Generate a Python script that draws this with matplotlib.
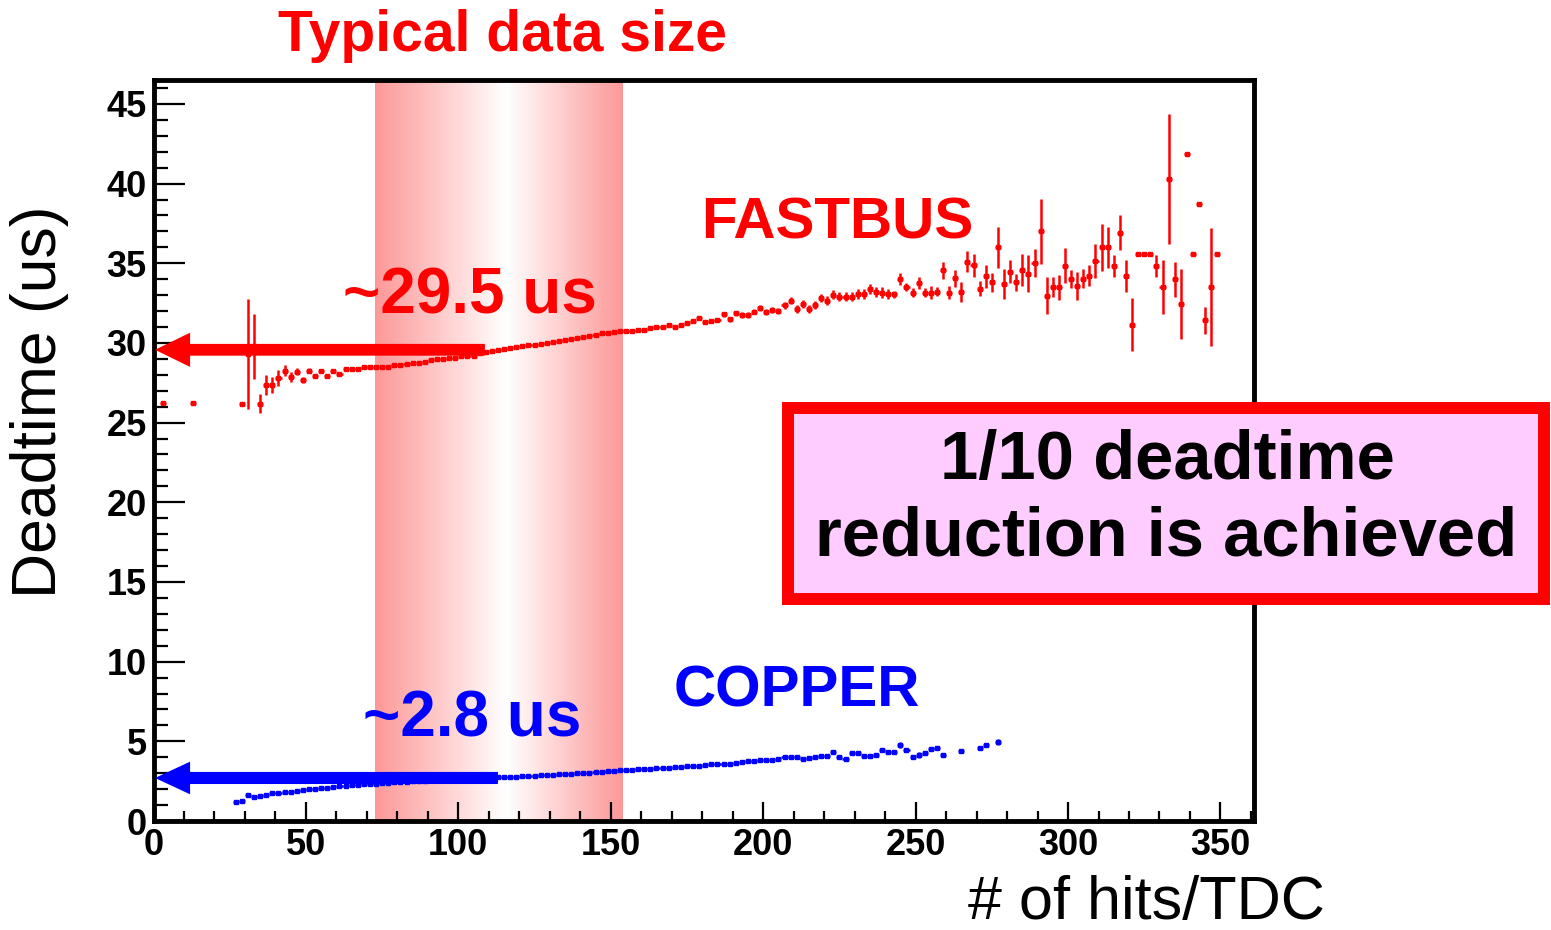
import numpy as np
import matplotlib
matplotlib.use("Agg")
import matplotlib.pyplot as plt
from matplotlib.colors import LinearSegmentedColormap
from matplotlib.patches import Rectangle
from matplotlib.ticker import MultipleLocator

plt.rcParams['font.family'] = ['Liberation Sans', 'DejaVu Sans']

# FASTBUS deadtime per bin (bin width 2 hits/TDC)
fb_x = [3, 13, 29] + list(range(31, 351, 2))
fb_y = [26.20, 26.20, 26.18,
        29.30, 29.78, 26.18, 27.37, 27.37, 27.79, 28.27, 27.85, 28.20, 27.68,
        28.27, 27.95, 28.27, 27.95, 28.27, 28.06, 28.35, 28.35, 28.35, 28.48,
        28.48, 28.52, 28.52, 28.52, 28.63, 28.63, 28.69, 28.73, 28.77, 28.83,
        28.94, 28.98, 28.98, 29.04, 29.08, 29.15, 29.19, 29.21, 29.36, 29.46,
        29.52, 29.55, 29.62, 29.70, 29.75, 29.80, 29.85, 29.90, 29.95, 30.00,
        30.08, 30.12, 30.18, 30.22, 30.28, 30.35, 30.45, 30.52, 30.60, 30.65,
        30.70, 30.72, 30.74, 30.76, 30.80, 30.84, 30.95, 31.03, 31.03, 31.14,
        30.99, 31.10, 31.24, 31.39, 31.55, 31.34, 31.39, 31.45, 31.80, 31.49,
        31.87, 31.76, 31.76, 31.97, 32.18, 31.97, 32.08, 32.01, 32.35, 32.66,
        32.14, 32.43, 32.14, 32.39, 32.81, 32.66, 33.02, 32.91, 32.91, 32.91,
        33.06, 33.06, 33.39, 33.18, 33.16, 33.08, 33.05, 34.00, 33.50, 33.16,
        33.75, 33.16, 33.16, 33.22, 34.55, 33.16, 34.06, 33.22, 35.11, 34.86,
        33.39, 34.17, 33.81, 36.00, 33.68, 34.48, 33.81, 34.55, 34.34, 35.01,
        37.00, 32.97, 33.50, 33.50, 34.84, 34.00, 33.58, 34.02, 34.23, 35.15,
        36.00, 36.00, 34.80, 36.93, 34.20, 31.14, 35.59, 35.59, 35.59, 34.80,
        33.50, 40.28, 34.00, 32.45, 41.85, 35.59, 38.71, 31.41, 33.50, 35.59]
fb_err = [0.0, 0.0, 0.0,
          3.45, 2.05, 0.60, 0.63, 0.50, 0.50, 0.37, 0.30, 0.23, 0.20,
          0.15, 0.12, 0.12, 0.10, 0.10, 0.08, 0.08, 0.07, 0.07, 0.07,
          0.06, 0.06, 0.06, 0.06, 0.06, 0.06, 0.06, 0.06, 0.06, 0.06,
          0.06, 0.06, 0.06, 0.06, 0.06, 0.06, 0.06, 0.06, 0.06, 0.06,
          0.06, 0.06, 0.06, 0.06, 0.06, 0.06, 0.06, 0.06, 0.06, 0.06,
          0.06, 0.06, 0.06, 0.06, 0.06, 0.06, 0.06, 0.06, 0.06, 0.06,
          0.07, 0.07, 0.07, 0.08, 0.08, 0.08, 0.09, 0.09, 0.10, 0.10,
          0.10, 0.11, 0.11, 0.12, 0.12, 0.13, 0.13, 0.14, 0.15, 0.15,
          0.16, 0.17, 0.17, 0.18, 0.19, 0.19, 0.20, 0.21, 0.22, 0.23,
          0.24, 0.24, 0.25, 0.26, 0.27, 0.27, 0.28, 0.28, 0.29, 0.30,
          0.30, 0.31, 0.32, 0.31, 0.32, 0.30, 0.20, 0.36, 0.26, 0.30,
          0.39, 0.26, 0.40, 0.30, 0.55, 0.42, 0.52, 0.63, 0.68, 0.71,
          0.47, 0.70, 0.60, 1.30, 0.93, 0.73, 0.54, 1.00, 1.15, 0.88,
          2.04, 1.16, 0.63, 0.78, 1.10, 0.58, 0.87, 0.60, 0.65, 1.08,
          1.46, 1.30, 0.69, 1.08, 1.00, 1.65, 0.00, 0.00, 0.00, 0.69,
          1.68, 4.07, 1.09, 2.20, 0.00, 0.00, 0.00, 0.86, 3.70, 0.00]

# COPPER deadtime per bin
cu_x = list(range(27, 261, 2)) + [265, 271, 273, 277]
cu_y = [1.22, 1.28, 1.66, 1.53, 1.59, 1.66, 1.73, 1.77, 1.80, 1.84,
        1.89, 1.94, 1.98, 2.02, 2.06, 2.10, 2.14, 2.19, 2.21, 2.25,
        2.27, 2.30, 2.32, 2.35, 2.38, 2.40, 2.43, 2.45, 2.47, 2.50,
        2.52, 2.54, 2.56, 2.58, 2.60, 2.61, 2.63, 2.65, 2.66, 2.68,
        2.70, 2.71, 2.72, 2.73, 2.75, 2.77, 2.79, 2.81, 2.83, 2.85,
        2.87, 2.89, 2.91, 2.93, 2.95, 2.97, 3.00, 3.02, 3.04, 3.07,
        3.09, 3.11, 3.14, 3.17, 3.19, 3.21, 3.24, 3.26, 3.28, 3.30,
        3.33, 3.35, 3.38, 3.41, 3.44, 3.46, 3.48, 3.51, 3.55, 3.55,
        3.56, 3.60, 3.62, 3.68, 3.74, 3.79, 3.83, 3.83, 3.83, 3.89,
        4.00, 4.00, 4.00, 3.87, 3.97, 4.00, 4.10, 4.08, 4.35, 4.00,
        3.89, 4.25, 4.25, 4.10, 4.10, 4.14, 4.46, 4.35, 4.31, 4.77,
        4.46, 4.00, 4.14, 4.25, 4.52, 4.60, 4.14,
        4.41, 4.56, 4.77, 4.94]
cu_err = [0.04, 0.04, 0.04, 0.04, 0.04, 0.04, 0.04, 0.04, 0.04, 0.04,
          0.04, 0.04, 0.04, 0.04, 0.04, 0.04, 0.04, 0.04, 0.04, 0.04,
          0.04, 0.04, 0.04, 0.04, 0.04, 0.04, 0.04, 0.04, 0.04, 0.04,
          0.04, 0.04, 0.04, 0.04, 0.04, 0.04, 0.04, 0.04, 0.04, 0.04,
          0.04, 0.04, 0.04, 0.04, 0.04, 0.04, 0.04, 0.04, 0.04, 0.04,
          0.04, 0.04, 0.04, 0.04, 0.04, 0.04, 0.04, 0.04, 0.04, 0.04,
          0.05, 0.05, 0.05, 0.05, 0.05, 0.05, 0.05, 0.05, 0.05, 0.05,
          0.05, 0.05, 0.05, 0.05, 0.05, 0.05, 0.05, 0.05, 0.05, 0.05,
          0.06, 0.06, 0.06, 0.06, 0.06, 0.06, 0.06, 0.06, 0.06, 0.06,
          0.06, 0.06, 0.06, 0.06, 0.07, 0.12, 0.08, 0.08, 0.08, 0.08,
          0.08, 0.08, 0.08, 0.08, 0.08, 0.09, 0.09, 0.09, 0.09, 0.20,
          0.10, 0.10, 0.20, 0.10, 0.10, 0.10, 0.05,
          0.05, 0.10, 0.08, 0.20]

band_lo, band_hi = 72.6, 153.8

fig = plt.figure(figsize=(15.51, 9.30), dpi=100)
ax = fig.add_axes([153.5 / 1551, 109 / 930, 1100.5 / 1551, 741 / 930])
ax.set_xlim(0, 361)
ax.set_ylim(0, 46.5)

# typical data size band (pink fading to white in the middle)
cmap = LinearSegmentedColormap.from_list('band', ['#ffffff', '#fd9898'])
pos = np.linspace(0, 1, 400)
shade = np.interp(pos, [0, 0.53, 1], [1, 0, 1])
ax.imshow(shade[np.newaxis, :], cmap=cmap, aspect='auto', vmin=0, vmax=1,
          extent=[band_lo, band_hi, 0, 46.5], zorder=0, interpolation='bilinear')

ax.errorbar(fb_x, fb_y, xerr=1, yerr=fb_err, fmt='s', ms=2.4, color='red',
            elinewidth=1.8, capsize=0, zorder=3)
ax.errorbar(cu_x, cu_y, xerr=1, yerr=cu_err, fmt='s', ms=2.4, color='blue',
            elinewidth=1.8, capsize=0, zorder=3)

ax.arrow(108.7, 29.57, -108.2, 0, width=0.74, head_width=2.15, head_length=11.5,
         length_includes_head=True, fc='red', ec='none', clip_on=False, zorder=5)
ax.arrow(113.0, 2.70, -112.5, 0, width=0.76, head_width=2.05, head_length=11.5,
         length_includes_head=True, fc='blue', ec='none', clip_on=False, zorder=5)

ax.text(103.8, 32.9, '~29.5 us', color='red', fontsize=46, fontweight='bold',
        ha='center', va='center', zorder=6)
ax.text(104.7, 6.4, '~2.8 us', color='blue', fontsize=46, fontweight='bold',
        ha='center', va='center', zorder=6)
ax.text(224.4, 37.5, 'FASTBUS', color='red', fontsize=42, fontweight='bold',
        ha='center', va='center', zorder=6)
ax.text(211, 8.1, 'COPPER', color='blue', fontsize=42, fontweight='bold',
        ha='center', va='center', zorder=6)

for side in ['left', 'right', 'top', 'bottom']:
    ax.spines[side].set_linewidth(3.5)
    ax.spines[side].set_zorder(4)
ax.set_xticks(range(0, 351, 50))
ax.set_yticks(range(0, 46, 5))
ax.xaxis.set_minor_locator(MultipleLocator(10))
ax.yaxis.set_minor_locator(MultipleLocator(1))
ax.tick_params(which='both', direction='in', top=False, right=False, width=1.6,
               labelsize=26, pad=5)
ax.tick_params(axis='y', which='major', length=22)
ax.tick_params(axis='y', which='minor', length=10)
ax.tick_params(axis='x', which='major', length=14)
ax.tick_params(axis='x', which='minor', length=7)
for lab in ax.get_xticklabels() + ax.get_yticklabels():
    lab.set_fontweight('bold')

fig.text(40 / 1551, 1 - 402 / 930, 'Deadtime (us)', rotation=90, ha='center',
         va='center', fontsize=45)
fig.text(1325 / 1551, 1 - 903 / 930, '# of hits/TDC', ha='right', va='center',
         fontsize=44)
fig.text(503 / 1551, 1 - 36 / 930, 'Typical data size', color='red', fontsize=41,
         fontweight='bold', ha='center', va='center')

box = Rectangle((788 / 1551, 1 - 599 / 930), 756 / 1551, 191 / 930,
                transform=fig.transFigure, fc='#ffccff', ec='red', lw=8.6, zorder=10)
fig.add_artist(box)
fig.text(1167 / 1551, 1 - 461 / 930, '1/10 deadtime', fontsize=49.5, fontweight='bold',
         ha='center', va='center', zorder=11)
fig.text(1166 / 1551, 1 - 538 / 930, 'reduction is achieved', fontsize=49.5,
         fontweight='bold', ha='center', va='center', zorder=11)

fig.savefig('out.png', dpi=100)
